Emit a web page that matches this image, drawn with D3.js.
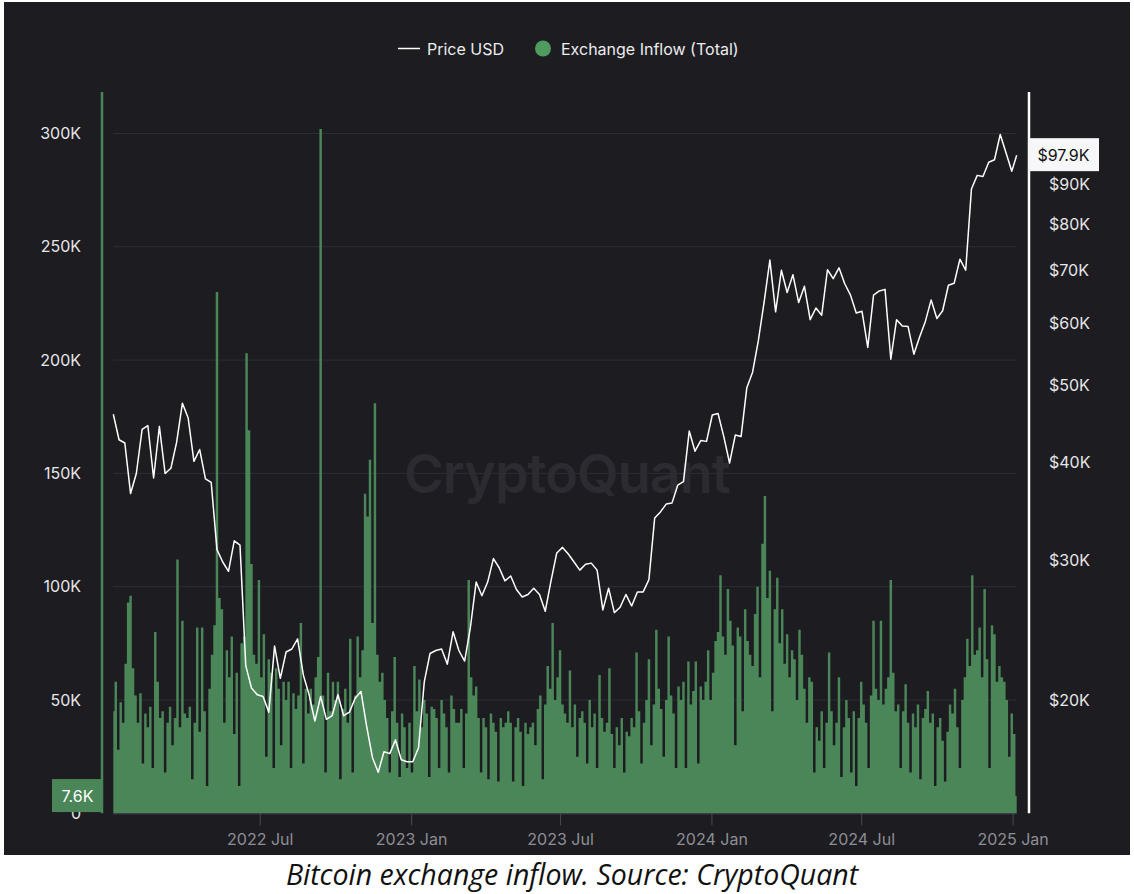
<!DOCTYPE html>
<html>
<head>
<meta charset="utf-8">
<script src="https://cdn.jsdelivr.net/npm/d3@7"></script>
<style>
  html, body { margin: 0; padding: 0; background: #ffffff; }
  svg { display: block; }
  .tick text { font-family: Inter, "Noto Sans", sans-serif; }
</style>
</head>
<body>
<script>
const width = 1134;
const height = 894;

// exchange inflow (total), thousands of BTC, every 3 days from 2022-01-04
const inflowStart = new Date(2022, 0, 4);
const inflowStep = 3;
const inflowK = [
  45, 58, 28, 49, 40, 66, 93, 96, 64, 52,
  40, 53, 22, 44, 38, 47, 20, 80, 58, 42,
  45, 18, 40, 47, 30, 42, 112, 38, 85, 44,
  42, 47, 15, 40, 82, 36, 82, 45, 12, 55,
  70, 83, 230, 95, 90, 40, 72, 60, 78, 35,
  62, 12, 75, 78, 203, 169, 110, 70, 66, 103,
  60, 79, 25, 68, 62, 20, 64, 55, 30, 58,
  50, 58, 20, 53, 46, 52, 84, 22, 55, 44,
  55, 48, 60, 69, 302, 52, 18, 62, 45, 58,
  50, 58, 15, 46, 55, 40, 77, 18, 52, 78,
  60, 72, 141, 131, 156, 84, 181, 70, 58, 62,
  50, 42, 18, 45, 69, 40, 16, 44, 38, 20,
  40, 18, 65, 45, 59, 38, 50, 44, 16, 47,
  46, 42, 20, 50, 44, 38, 18, 52, 46, 40,
  40, 46, 20, 44, 103, 60, 52, 56, 42, 18,
  42, 38, 15, 44, 40, 36, 14, 42, 38, 40,
  45, 40, 14, 38, 42, 36, 12, 40, 35, 38,
  40, 30, 46, 52, 15, 48, 65, 55, 84, 50,
  60, 72, 48, 44, 40, 63, 38, 48, 25, 42,
  45, 40, 22, 50, 38, 44, 20, 61, 42, 36,
  40, 64, 35, 20, 38, 30, 42, 18, 36, 34,
  42, 38, 71, 45, 22, 40, 50, 68, 30, 48,
  81, 55, 46, 25, 50, 78, 52, 44, 20, 56,
  50, 58, 20, 67, 48, 54, 67, 22, 56, 50,
  58, 72, 50, 62, 76, 80, 105, 78, 70, 99,
  85, 74, 30, 82, 78, 45, 90, 76, 70, 65,
  88, 100, 60, 119, 140, 95, 107, 45, 90, 104,
  75, 90, 66, 79, 60, 72, 68, 50, 81, 70,
  55, 40, 60, 58, 18, 38, 32, 45, 20, 40,
  71, 45, 30, 40, 60, 16, 38, 50, 42, 18,
  45, 12, 42, 58, 48, 40, 20, 52, 85, 55,
  50, 85, 48, 55, 60, 103, 62, 45, 48, 20,
  45, 57, 40, 18, 44, 38, 48, 15, 42, 46,
  54, 40, 44, 12, 38, 42, 32, 14, 36, 48,
  44, 55, 38, 20, 50, 60, 77, 65, 105, 70,
  72, 82, 60, 99, 68, 20, 83, 79, 58, 65,
  60, 58, 50, 25, 44, 35, 7.6
];

// price USD, thousands, weekly from 2022-01-04, plus the last labelled point
const priceStart = new Date(2022, 0, 4);
const priceStep = 7;
const priceK = [
  46.0, 42.7, 42.3, 36.5, 38.7, 44.0, 44.5, 38.2, 44.4, 38.7,
  39.3, 42.4, 47.5, 45.5, 40.1, 41.5, 38.1, 37.7, 31.0, 29.9,
  29.1, 31.8, 31.4, 22.1, 20.7, 20.3, 20.2, 19.3, 23.4, 21.3,
  23.0, 23.2, 23.9, 21.5, 20.3, 18.8, 20.2, 18.9, 19.1, 20.3,
  19.1, 19.3, 20.1, 20.5, 18.5, 16.9, 16.2, 17.2, 17.1, 17.8,
  16.8, 16.7, 16.7, 17.4, 21.1, 22.9, 23.1, 23.2, 22.2, 24.4,
  23.1, 22.4, 24.7, 28.2, 27.1, 28.2, 30.2, 29.4, 28.3, 28.7,
  27.6, 27.0, 27.2, 27.7, 27.2, 25.9, 28.3, 30.7, 31.2, 30.6,
  29.9, 29.2, 29.7, 29.8, 29.2, 26.0, 27.7, 25.8, 26.2, 27.2,
  26.3, 27.4, 27.4, 28.4, 34.0, 34.6, 35.4, 35.5, 37.4, 37.8,
  43.8, 41.3, 42.6, 42.5, 45.9, 46.1, 43.1, 39.9, 43.3, 43.1,
  49.7, 52.0, 57.0, 63.8, 72.1, 62.0, 70.0, 65.6, 69.1, 63.7,
  66.8, 60.6, 62.7, 61.4, 70.1, 68.3, 70.5, 67.3, 65.1, 61.8,
  62.1, 55.9, 65.1, 65.9, 66.2, 54.0, 60.6, 59.5, 59.4, 54.8,
  57.6, 60.3, 64.2, 60.8, 62.2, 67.0, 67.4, 72.3, 70.0, 88.7,
  92.3, 92.0, 95.9, 96.6, 104.0, 98.6, 93.4
];
const lastPriceDate = new Date(2025, 0, 6);
const lastPriceK = 97.9;
const lastInflowK = 7.6;

const leftTicks = [0, 50000, 100000, 150000, 200000, 250000, 300000];
const rightTicks = [20000, 30000, 40000, 50000, 60000, 70000, 80000, 90000];
const xTicks = [new Date(2022, 6, 1), new Date(2023, 0, 1), new Date(2023, 6, 1),
                new Date(2024, 0, 1), new Date(2024, 6, 1), new Date(2025, 0, 1)];

const inflow = inflowK.map((v, i) => ({ date: d3.timeDay.offset(inflowStart, i * inflowStep), v: v * 1000 }));
const price = priceK.map((v, i) => ({ date: d3.timeDay.offset(priceStart, i * priceStep), v: v * 1000 }));
price.push({ date: lastPriceDate, v: lastPriceK * 1000 });

const plot = { left: 113.3, right: 1016.7, top: 92, bottom: 813.3 };

const x = d3.scaleTime()
  .domain([inflowStart, inflow[inflow.length - 1].date])
  .range([plot.left, plot.right]);
const yL = d3.scaleLinear().domain([0, 318300]).range([plot.bottom, plot.top]);
const yR = d3.scaleLog().domain([14370, 117700]).range([plot.bottom, plot.top]);

const green = "#4a8657";
const bg = "#1c1c21";
const font = "Inter, 'Noto Sans', sans-serif";

const svg = d3.select("body").append("svg")
  .attr("width", width)
  .attr("height", height);

svg.append("rect")
  .attr("x", 4).attr("y", 2)
  .attr("width", 1126).attr("height", 853)
  .attr("fill", bg);

// gridlines
svg.append("g")
  .selectAll("line")
  .data(leftTicks.slice(1))
  .join("line")
  .attr("x1", plot.left).attr("x2", plot.right)
  .attr("y1", d => yL(d)).attr("y2", d => yL(d))
  .attr("stroke", "#2e2e35")
  .attr("stroke-width", 1);

// watermark
svg.append("text")
  .attr("x", 567).attr("y", 493)
  .attr("text-anchor", "middle")
  .attr("font-family", font)
  .attr("font-weight", 600)
  .attr("font-size", 54)
  .attr("letter-spacing", -1)
  .attr("fill", "#2b2b31")
  .text("CryptoQuant");

// inflow area
const area = d3.area()
  .curve(d3.curveStep)
  .x(d => x(d.date))
  .y0(yL(0))
  .y1(d => yL(d.v));

svg.append("path")
  .datum(inflow)
  .attr("d", area)
  .attr("fill", green);

// price line
const line = d3.line()
  .x(d => x(d.date))
  .y(d => yR(d.v));

svg.append("path")
  .datum(price)
  .attr("d", line)
  .attr("fill", "none")
  .attr("stroke", "#ffffff")
  .attr("stroke-width", 1.5)
  .attr("stroke-linejoin", "round");

// x axis
const xAxis = svg.append("g")
  .attr("transform", `translate(0,${plot.bottom})`)
  .call(d3.axisBottom(x).tickValues(xTicks).tickFormat(d3.timeFormat("%Y %b")).tickSize(12).tickPadding(8));
xAxis.select(".domain").attr("stroke", "#45454c").attr("d", `M${plot.left},0.5H${plot.right}`);
xAxis.selectAll(".tick line").attr("stroke", "#4a4a52");
xAxis.selectAll(".tick text").attr("fill", "#8e8e95").attr("font-size", 16);

// left axis
const leftAxis = svg.append("g")
  .attr("transform", "translate(102,0)")
  .call(d3.axisLeft(yL).tickValues(leftTicks)
    .tickFormat(d => d === 0 ? "0" : d / 1000 + "K").tickSize(0).tickPadding(21));
leftAxis.select(".domain").attr("stroke", green).attr("stroke-width", 2.5)
  .attr("d", `M0,${plot.top}V${plot.bottom}`);
leftAxis.selectAll(".tick text").attr("fill", "#e6e6e8").attr("font-size", 16);

// right axis
const rightAxis = svg.append("g")
  .attr("transform", "translate(1029,0)")
  .call(d3.axisRight(yR).tickValues(rightTicks)
    .tickFormat(d => "$" + d / 1000 + "K").tickSize(0).tickPadding(20));
rightAxis.select(".domain").attr("stroke", "#ffffff").attr("stroke-width", 2.5)
  .attr("d", `M0,${plot.top}V${plot.bottom}`);
rightAxis.selectAll(".tick text").attr("fill", "#e6e6e8").attr("font-size", 16);

// last value badges
const lastY = yR(lastPriceK * 1000);
svg.append("rect")
  .attr("x", 1028).attr("y", lastY - 17)
  .attr("width", 71).attr("height", 33)
  .attr("fill", "#f7f7fa");
svg.append("text")
  .attr("x", 1063.5).attr("y", lastY)
  .attr("dy", "0.35em")
  .attr("text-anchor", "middle")
  .attr("font-family", font).attr("font-size", 16)
  .attr("fill", "#111")
  .text("$" + lastPriceK + "K");

const inY = yL(lastInflowK * 1000);
svg.append("rect")
  .attr("x", 52).attr("y", inY - 17)
  .attr("width", 51).attr("height", 33)
  .attr("fill", green);
svg.append("text")
  .attr("x", 77.5).attr("y", inY)
  .attr("dy", "0.35em")
  .attr("text-anchor", "middle")
  .attr("font-family", font).attr("font-size", 16)
  .attr("fill", "#ffffff")
  .text(lastInflowK + "K");

// legend
const legend = svg.append("g").attr("font-family", font).attr("font-size", 16).attr("fill", "#ececee");
legend.append("line")
  .attr("x1", 398).attr("x2", 420).attr("y1", 48.5).attr("y2", 48.5)
  .attr("stroke", "#ffffff").attr("stroke-width", 1.5);
legend.append("text").attr("x", 427).attr("y", 49).attr("dy", "0.35em").text("Price USD");
legend.append("circle").attr("cx", 543).attr("cy", 48.5).attr("r", 8).attr("fill", "#4f9a5e");
legend.append("text").attr("x", 561).attr("y", 49).attr("dy", "0.35em").text("Exchange Inflow (Total)");

// caption
svg.append("text")
  .attr("x", 572).attr("y", 885)
  .attr("text-anchor", "middle")
  .attr("font-family", "'Open Sans', sans-serif")
  .attr("font-style", "italic")
  .attr("font-size", 28.5)
  .attr("fill", "#111")
  .text("Bitcoin exchange inflow. Source: CryptoQuant");
</script>
</body>
</html>
